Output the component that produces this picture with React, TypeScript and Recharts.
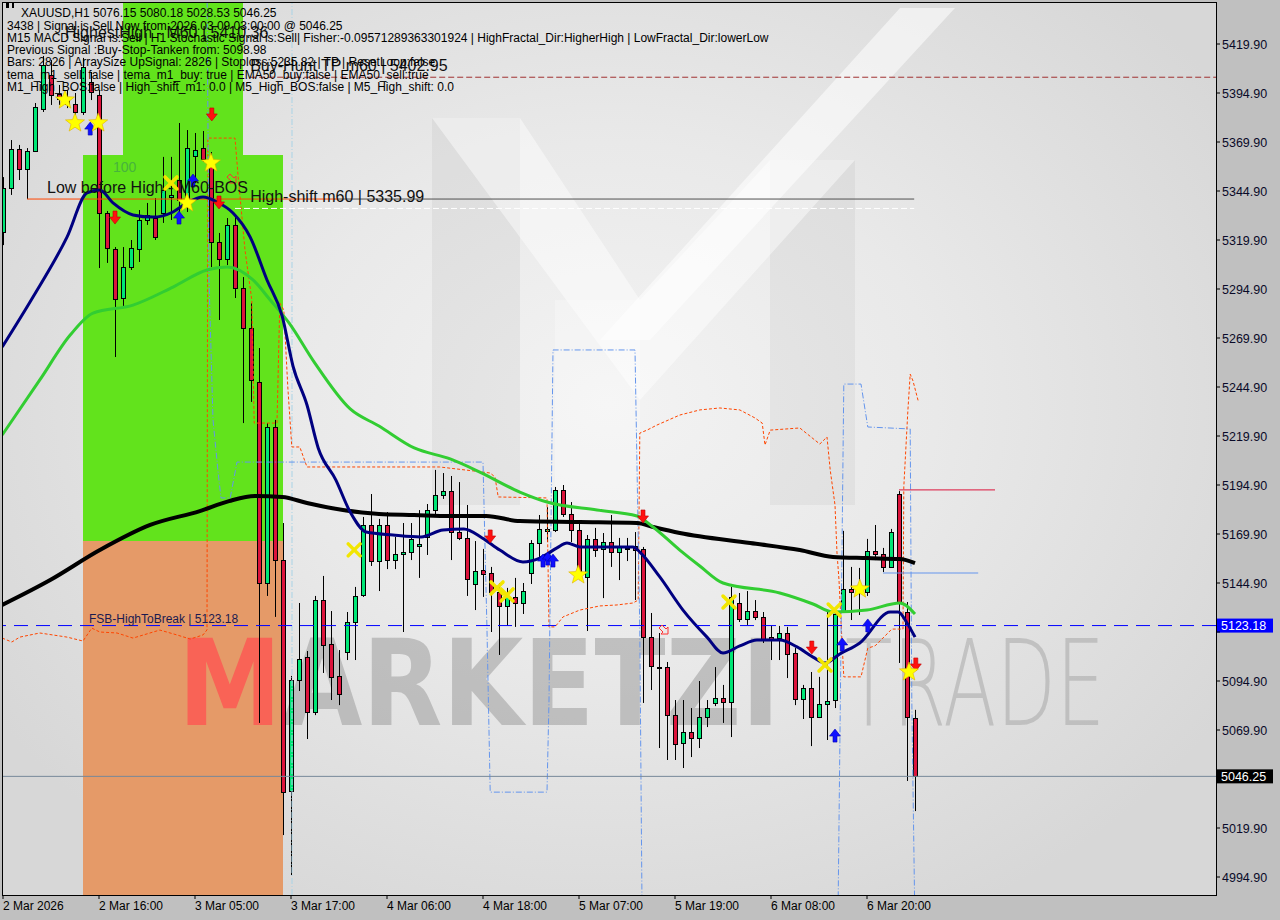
import React from "react";
import {
  ComposedChart,
  Bar,
  Line,
  XAxis,
  YAxis,
  ReferenceArea,
  ReferenceLine,
  ReferenceDot,
} from "recharts";

// plot window (bar index / price) - 8px per bar, 1.96px per point
const X_MIN = -0.125;
const X_MAX = 151.625;
const Y_MIN = 4985.72;
const Y_MAX = 5441.33;

const BULL = "#00E676";
const BEAR = "#DC143C";
const FONT = "'Liberation Sans', Arial, sans-serif";

// XAUUSD H1 candles, index 0 = 2 Mar 2026
const opens = [
  5324.0, 5346.4, 5366.3, 5356.1, 5365.3, 5386.7, 5404.1, 5394.4, 5391.8, 5389.3,
  5385.2, 5400.5, 5393.9, 5333.7, 5315.3, 5290.3, 5306.1, 5315.3, 5330.1, 5331.1,
  5333.7, 5341.8, 5350.5, 5341.3, 5362.8, 5366.8, 5360.7, 5318.9, 5310.2, 5327.6,
  5295.4, 5275.0, 5247.5, 5144.9, 5224.5, 5156.6, 5038.8, 5095.4, 5107.1, 5079.1,
  5136.2, 5113.8, 5097.5, 5109.7, 5125.0, 5138.8, 5174.5, 5156.1, 5174.5, 5156.6,
  5159.7, 5160.7, 5163.8, 5168.4, 5182.1, 5189.8, 5191.8, 5170.9, 5167.9, 5144.4,
  5151.5, 5150.0, 5140.3, 5133.2, 5137.8, 5134.7, 5150.0, 5165.3, 5171.5, 5172.0,
  5192.4, 5180.1, 5172.0, 5148.0, 5167.4, 5162.3, 5165.8, 5160.7, 5162.9, 5163.8,
  5162.3, 5117.3, 5102.0, 5102.0, 5077.5, 5063.3, 5068.9, 5065.8, 5076.5, 5083.7,
  5086.2, 5084.2, 5134.7, 5126.5, 5130.6, 5127.5, 5117.3, 5116.8, 5119.4, 5109.2,
  5085.7, 5091.3, 5076.5, 5083.2, 5085.2, 5130.1, 5141.8, 5140.3, 5140.3, 5161.2,
  5159.7, 5153.1, 5190.3, 5130.1, 5076.15,
];
const highs = [
  5352.0, 5370.9, 5368.4, 5366.8, 5389.8, 5413.8, 5411.7, 5399.0, 5396.4, 5394.9,
  5412.8, 5405.6, 5396.4, 5334.7, 5316.3, 5316.3, 5319.9, 5335.2, 5338.8, 5341.3,
  5362.3, 5362.3, 5379.6, 5376.0, 5374.5, 5375.5, 5364.8, 5323.5, 5331.1, 5331.6,
  5301.0, 5287.8, 5264.8, 5226.5, 5228.1, 5175.5, 5097.5, 5134.7, 5110.2, 5138.3,
  5148.5, 5130.6, 5110.7, 5130.1, 5142.9, 5178.6, 5190.3, 5177.6, 5181.1, 5168.4,
  5175.5, 5175.5, 5182.1, 5185.2, 5202.6, 5201.0, 5199.5, 5196.4, 5184.7, 5166.3,
  5162.3, 5153.1, 5144.9, 5142.4, 5147.5, 5144.9, 5166.8, 5179.6, 5183.6, 5193.9,
  5194.9, 5186.2, 5176.0, 5169.4, 5173.0, 5170.4, 5179.6, 5167.9, 5167.9, 5170.9,
  5163.3, 5129.6, 5119.4, 5104.6, 5085.2, 5085.2, 5081.1, 5094.9, 5085.2, 5102.0,
  5092.9, 5142.9, 5139.8, 5140.8, 5136.2, 5130.1, 5123.0, 5123.0, 5122.5, 5111.7,
  5092.9, 5099.5, 5097.0, 5131.1, 5132.6, 5171.5, 5153.1, 5152.6, 5167.4, 5174.5,
  5162.8, 5172.5, 5191.8, 5135.2, 5080.18,
];
const lows = [
  5317.3, 5342.9, 5350.5, 5340.8, 5364.8, 5385.2, 5388.8, 5388.8, 5387.2, 5383.7,
  5383.7, 5391.3, 5305.6, 5308.2, 5260.2, 5285.7, 5304.6, 5308.7, 5327.6, 5319.9,
  5328.6, 5330.1, 5334.2, 5334.2, 5349.0, 5359.7, 5306.1, 5279.1, 5307.1, 5290.3,
  5226.5, 5237.3, 5073.5, 5138.3, 5127.6, 5016.3, 4995.9, 5089.8, 5065.3, 5077.5,
  5099.0, 5085.2, 5082.6, 5105.6, 5105.6, 5137.8, 5153.6, 5140.8, 5152.0, 5152.0,
  5119.9, 5156.6, 5147.5, 5159.2, 5179.1, 5187.8, 5156.6, 5166.8, 5138.3, 5131.1,
  5137.8, 5119.9, 5108.2, 5123.0, 5122.5, 5129.1, 5144.4, 5158.2, 5165.8, 5170.9,
  5178.6, 5165.8, 5146.4, 5120.4, 5158.2, 5137.2, 5153.1, 5146.4, 5156.1, 5136.2,
  5083.7, 5090.3, 5060.7, 5054.6, 5054.6, 5050.5, 5056.1, 5060.7, 5071.4, 5082.1,
  5073.5, 5066.3, 5125.0, 5123.5, 5126.0, 5114.3, 5105.6, 5105.6, 5096.4, 5082.6,
  5075.5, 5061.7, 5076.0, 5064.8, 5081.1, 5130.1, 5126.0, 5128.6, 5138.3, 5156.6,
  5150.5, 5153.1, 5104.1, 5043.9, 5028.53,
];
const closes = [
  5346.4, 5366.3, 5356.1, 5365.3, 5387.8, 5409.2, 5393.9, 5391.8, 5389.3, 5385.2,
  5408.2, 5395.4, 5333.7, 5315.8, 5289.8, 5306.1, 5315.8, 5330.1, 5332.7, 5321.4,
  5345.4, 5342.8, 5340.3, 5366.8, 5365.8, 5361.2, 5318.9, 5310.2, 5327.6, 5295.4,
  5275.0, 5248.5, 5144.9, 5224.5, 5156.6, 5038.3, 5095.4, 5106.1, 5079.1, 5136.2,
  5113.3, 5097.0, 5088.3, 5125.0, 5138.3, 5174.5, 5156.1, 5174.5, 5156.6, 5159.7,
  5160.7, 5167.4, 5164.8, 5182.1, 5189.8, 5191.8, 5170.9, 5167.9, 5147.0, 5151.0,
  5149.5, 5140.3, 5133.2, 5138.3, 5134.7, 5140.8, 5165.3, 5172.5, 5172.5, 5192.4,
  5180.1, 5172.0, 5149.0, 5167.4, 5161.7, 5165.8, 5160.7, 5163.3, 5162.8, 5161.7,
  5117.3, 5102.5, 5101.9, 5077.5, 5062.8, 5068.9, 5065.8, 5076.5, 5081.1, 5086.2,
  5084.2, 5137.8, 5126.5, 5130.6, 5127.5, 5116.3, 5116.3, 5119.4, 5108.7, 5085.7,
  5091.3, 5076.5, 5083.2, 5084.7, 5129.1, 5141.8, 5140.3, 5141.8, 5161.2, 5159.7,
  5153.1, 5171.0, 5134.7, 5076.5, 5046.25,
];

const dateTickIdx = [0, 12, 24, 36, 48, 60, 72, 84, 96, 108];
const dateTickLabels = [
  "2 Mar 2026", "2 Mar 16:00", "3 Mar 05:00", "3 Mar 17:00", "4 Mar 06:00",
  "4 Mar 18:00", "5 Mar 07:00", "5 Mar 19:00", "6 Mar 08:00", "6 Mar 20:00",
];
const priceTicks = [
  4994.9, 5019.9, 5044.9, 5069.9, 5094.9, 5119.9, 5144.9, 5169.9, 5194.9,
  5219.9, 5244.9, 5269.9, 5294.9, 5319.9, 5344.9, 5369.9, 5394.9, 5419.9,
];
// prices shown as tags on the price scale
const tagPrices = [5123.18, 5046.25];

// indicator vertices [bar index, price]
const emaFast: [number, number][] = [
  [-0.1, 5265.3], [3.75, 5290.8], [8, 5321.4], [10.5, 5343.9], [12.1, 5345.4],
  [13.75, 5338.8], [16.25, 5332.7], [18.75, 5331.6], [21.25, 5334.2], [23, 5338.8],
  [25, 5341.8], [26.75, 5339.3], [28.75, 5333.7], [30.9, 5321.4], [33, 5299.5],
  [34.9, 5281.1], [36.25, 5255.6], [38, 5235.7], [39.4, 5213.8], [41.6, 5197.5],
  [43.4, 5181.1], [45.4, 5170.9], [48.75, 5169.4], [52.25, 5168.4], [55, 5171.9],
  [57.6, 5172.5], [59.9, 5167.9], [62.1, 5161.7], [65, 5155.6], [67.1, 5157.6],
  [69.25, 5162.8], [70.5, 5165.3], [72.1, 5163.3], [74.6, 5163.3], [78.75, 5163.3],
  [79.6, 5160.7], [82.1, 5148.0], [85, 5131.1], [88, 5117.3], [90, 5109.2],
  [92.1, 5112.8], [94.25, 5115.8], [97.1, 5115.8], [99.25, 5112.3], [101.25, 5107.1],
  [102.75, 5104.1], [104.6, 5108.7], [107.1, 5114.3], [110.9, 5130.1], [111.9, 5130.1],
  [113, 5124.5], [114, 5117.3],
];
const ema50: [number, number][] = [
  [-0.1, 5220.4], [4.6, 5248.5], [8.4, 5271.4], [11.25, 5282.6], [16.25, 5286.7],
  [21.25, 5295.9], [25.5, 5304.6], [28, 5306.1], [31.25, 5299.5], [33.4, 5289.3],
  [35.75, 5277.6], [38.9, 5257.6], [43.4, 5233.7], [47, 5225.0], [51.4, 5213.8],
  [55.9, 5208.2], [59.6, 5201.5], [64.6, 5191.3], [68, 5186.2], [74.25, 5182.1],
  [79.25, 5179.1], [81.25, 5173.5], [84.6, 5161.7], [87.1, 5153.6], [90, 5144.9],
  [97.1, 5139.8], [101.25, 5134.2], [103.75, 5130.1], [108, 5131.1], [112.1, 5134.7],
  [114, 5129.1],
];
const ema200: [number, number][] = [
  [-0.1, 5133.7], [5.9, 5146.4], [12.1, 5161.7], [18.4, 5174.5], [24.6, 5181.6],
  [28.25, 5186.7], [31.5, 5189.3], [34.9, 5188.8], [38, 5185.7], [42.5, 5182.1],
  [47, 5180.1], [51.4, 5179.6], [55.9, 5179.1], [60.4, 5179.1], [64.6, 5176.5],
  [72.1, 5176.0], [79.25, 5175.5], [81.25, 5173.5], [84.6, 5170.4], [93.4, 5165.3],
  [99.6, 5161.7], [103.75, 5158.2], [108, 5157.6], [112.1, 5157.1], [114, 5155.1],
];
const stopLine: [number, number][] = [
  [-0.1, 5116.8], [1.1, 5114.8], [2.1, 5117.3], [4.6, 5119.4], [8, 5117.3],
  [10, 5115.3], [11.1, 5121.9], [12.1, 5119.9], [14.25, 5119.4], [16.25, 5116.8],
  [19.6, 5120.9], [21.75, 5118.4], [23.4, 5116.3], [25, 5118.4], [25.5, 5121.0],
  [25.6, 5371.9], [29, 5371.9], [29.4, 5352.0], [30.25, 5314.8], [31.1, 5289.3],
  [31.4, 5226.5], [34.25, 5226.5], [34.6, 5287.8], [35.1, 5284.2], [35.6, 5244.9],
  [36.1, 5214.3], [37.1, 5214.3], [38, 5204.1], [54.6, 5204.1], [60, 5201.5],
  [60.9, 5201.0], [61.5, 5199.0], [61.9, 5188.8], [68, 5188.3], [68.25, 5122.5],
  [69, 5122.5], [70, 5127.6], [72.1, 5131.1], [74.6, 5133.2], [76.75, 5133.7],
  [78.75, 5134.7], [79.4, 5136.2], [79.6, 5221.4], [80.5, 5222.9], [81.75, 5225.5],
  [84.6, 5230.6], [87.1, 5233.2], [89.6, 5234.2], [92.1, 5233.2], [94, 5229.1],
  [94.9, 5226.5], [95.25, 5215.3], [95.9, 5222.9], [99.6, 5224.0], [102.1, 5215.8],
  [103, 5219.4], [103.4, 5202.6], [104, 5184.7], [104.25, 5160.2], [104.5, 5146.4],
  [104.75, 5125.0], [105.1, 5097.0], [107.25, 5097.0], [108.1, 5111.7], [109, 5112.8],
  [110.5, 5118.9], [111.1, 5121.4], [112.5, 5121.4], [112.6, 5193.9], [113.1, 5232.2],
  [113.4, 5251.5], [113.75, 5248.0], [114.4, 5237.8],
];
const channelLine: [number, number][] = [
  [25.5, 5452.6], [25.75, 5299.5], [26.25, 5228.1], [26.9, 5201.0], [27.25, 5188.3],
  [28.4, 5188.3], [29.25, 5206.6], [60, 5206.6], [60.5, 5120.9], [60.9, 5038.2],
  [68, 5038.2], [68.25, 5085.2], [68.75, 5263.8], [79, 5263.8], [79.6, 5120.9],
  [79.9, 4967.9], [104.4, 4967.9], [104.4, 4984.7], [105.1, 5246.4], [107.25, 5246.4],
  [108.1, 5224.5], [113.4, 5223.5], [113.6, 5085.2], [114, 4967.9],
];

// signal markers [bar index, price]
const sellArrows: [number, number][] = [
  [26.1, 5383.7], [14, 5331.1], [27, 5338.8], [60.9, 5168.4], [80, 5178.6],
  [101.1, 5111.7], [114.1, 5103.1],
];
const buyArrows: [number, number][] = [
  [10.9, 5377.0], [23.75, 5350.5], [22, 5331.6], [67.5, 5156.6], [68.1, 5157.6],
  [68.75, 5156.6], [104, 5067.3], [104.9, 5113.8], [108.1, 5123.5],
];
const stars: [number, number][] = [
  [7.75, 5391.3], [9, 5379.6], [11.9, 5379.6], [26, 5359.2], [23, 5338.8],
  [71.9, 5149.0], [107.1, 5141.8], [113.25, 5099.5],
];
const crosses: [number, number][] = [
  [21, 5349.0], [43.9, 5161.8], [61.75, 5142.4], [63, 5138.8], [90.75, 5135.2],
  [102.75, 5103.1], [103.9, 5131.1],
];
const hollowArrows: [number, number][] = [[28.75, 5350.5], [82.75, 5120.4]];

const candles = opens.map((o, i) => ({
  i,
  open: o,
  high: highs[i],
  low: lows[i],
  close: closes[i],
  range: [lows[i], highs[i]],
}));
const pts = (arr: [number, number][]) => arr.map(([i, p]) => ({ i, p }));

const Candle = (props: any) => {
  const { x, y, width, height, payload } = props;
  if (!payload || height == null || isNaN(y)) return null;
  const { open, close, high, low } = payload;
  const cx = Math.round(x + width / 2) + 0.5;
  const span = high - low || 1;
  const yOf = (v: number) => y + ((high - v) / span) * height;
  const top = Math.round(yOf(Math.max(open, close)));
  const bot = Math.round(yOf(Math.min(open, close)));
  return (
    <g>
      <line x1={cx} x2={cx} y1={y} y2={y + height} stroke="#000" strokeWidth={1} />
      <rect
        x={cx - 2}
        y={top + 0.5}
        width={4}
        height={Math.max(1, bot - top)}
        fill={close > open ? BULL : BEAR}
        stroke="#000"
        strokeWidth={1}
      />
    </g>
  );
};

const DownArrow = ({ cx, cy }: any) => (
  <path
    d={`M${cx - 2},${cy - 7} h4 v6 h3.5 l-5.5,7 l-5.5,-7 h3.5 z`}
    fill="#ff1010"
    stroke="#c00000"
    strokeWidth={0.6}
  />
);
const UpArrow = ({ cx, cy }: any) => (
  <path
    d={`M${cx - 2},${cy + 7} h4 v-6 h3.5 l-5.5,-7 l-5.5,7 h3.5 z`}
    fill="#1010ff"
    stroke="#0000b0"
    strokeWidth={0.6}
  />
);
const HollowArrow = ({ cx, cy }: any) => (
  <path
    d={`M${cx - 6},${cy - 3} l3,-3 l4,4 l2,-2 v7 h-7 l2,-2 z`}
    fill="none"
    stroke="#ff3030"
    strokeWidth={1}
  />
);
const Star = ({ cx, cy }: any) => {
  const p: string[] = [];
  for (let k = 0; k < 10; k++) {
    const r = k % 2 === 0 ? 10 : 4.2;
    const a = -Math.PI / 2 + (k * Math.PI) / 5;
    p.push(`${cx + r * Math.cos(a)},${cy + r * Math.sin(a)}`);
  }
  return <polygon points={p.join(" ")} fill="#ffff00" stroke="#e0b000" strokeWidth={0.6} />;
};
const Cross = ({ cx, cy }: any) => (
  <g stroke="#f2e600" strokeWidth={3.5} strokeLinecap="round">
    <line x1={cx - 6} y1={cy - 6} x2={cx + 6} y2={cy + 6} />
    <line x1={cx - 6} y1={cy + 6} x2={cx + 6} y2={cy - 6} />
  </g>
);

const label = (text: string, size: number, color = "#111") => (p: any) => (
  <text x={p.cx} y={p.cy} fontFamily={FONT} fontSize={size} fill={color}>
    {text}
  </text>
);

const PriceTag = ({ viewBox, text, bg }: any) => {
  if (!viewBox) return null;
  const x = viewBox.x + viewBox.width + 1;
  const y = viewBox.y;
  return (
    <g>
      <rect x={x} y={y - 7} width={56} height={14} fill={bg} />
      <text x={x + 4} y={y + 4.5} fontFamily={FONT} fontSize={12.5} fill="#fff">
        {text}
      </text>
    </g>
  );
};

const DateTick = ({ x, y, payload }: any) => {
  const k = dateTickIdx.indexOf(payload.value);
  return (
    <text x={x} y={y + 10} fontFamily={FONT} fontSize={12} fill="#000" textAnchor="start">
      {k >= 0 ? dateTickLabels[k] : ""}
    </text>
  );
};
// labels hidden under a price tag are not drawn (as in the terminal)
const PriceTick = ({ x, y, payload }: any) => {
  if (tagPrices.some((t) => Math.abs(t - payload.value) < 4)) return null;
  return (
    <text x={x} y={y + 4.5} fontFamily={FONT} fontSize={12.5} fill="#0a0a28" textAnchor="start">
      {payload.value.toFixed(2)}
    </text>
  );
};

const WordMark = ({ x, y, width, height, word, first, firstColor }: any) => (
  <text
    x={x}
    y={y + height}
    fontFamily="'DejaVu Sans', sans-serif"
    fontWeight={first ? 700 : 200}
    fontSize={120}
    textLength={width}
    lengthAdjust="spacingAndGlyphs"
    fill="#9c9c9c"
    fillOpacity={first ? 0.55 : 0.45}
  >
    {first ? <tspan fill={firstColor} fillOpacity={0.75}>{first}</tspan> : null}
    {word}
  </text>
);

const header = [
  "3438 | Signal is Sell Now from:2026.03.09 03:00:00 @ 5046.25",
  "M15 MACD Signal is:Sell | H1 Stochastic Signal is:Sell| Fisher:-0.09571289363301924 | HighFractal_Dir:HigherHigh | LowFractal_Dir:lowerLow",
  "Previous Signal :Buy-Stop-Tanken from: 5098.98",
  "Bars: 2826 | ArraySize UpSignal: 2826 | Stoploss:5235.82 | TP | ResetLoop:false",
  "tema_m1_sell: false | tema_m1_buy: true | EMA50_buy:false | EMA50_sell:true",
  "M1_High_BOS:false | High_shift_m1: 0.0 | M5_High_BOS:false | M5_High_shift: 0.0",
];

export default function App() {
  return (
    <div style={{ position: "absolute", left: 0, top: 0, width: 1280, height: 920, background: "#c0c0c0", overflow: "hidden" }}>
      <div
        style={{
          position: "absolute",
          left: 2,
          top: 2,
          width: 1214,
          height: 893,
          background: "radial-gradient(ellipse 60% 65% at 50% 45%, #f3f3f3 0%, #e9e9e9 45%, #d7d7d7 100%)",
        }}
      />
      {/* faint logo in the background */}
      <svg width={1280} height={920} style={{ position: "absolute", left: 0, top: 0 }}>
        <polygon points="432,118 520,118 520,505 432,505" fill="#000" fillOpacity={0.045} />
        <polygon points="770,160 855,160 855,505 770,505" fill="#000" fillOpacity={0.04} />
        <polygon points="432,118 520,118 640,300 770,160 855,160 640,400" fill="#fff" fillOpacity={0.45} />
        <polygon points="600,340 650,340 955,8 900,8" fill="#fff" fillOpacity={0.55} />
        <polygon points="555,300 640,300 640,500 555,500" fill="#fff" fillOpacity={0.25} />
      </svg>
      <div style={{ position: "absolute", left: 0, top: 0 }}>
        <ComposedChart
          width={1280}
          height={920}
          data={candles}
          margin={{ top: 2, right: 0, bottom: 0, left: 2 }}
        >
          <XAxis
            dataKey="i"
            type="number"
            domain={[X_MIN, X_MAX]}
            allowDataOverflow
            ticks={dateTickIdx}
            interval={0}
            height={25}
            tickSize={4}
            tickMargin={1}
            axisLine={false}
            tickLine={{ stroke: "#000" }}
            tick={<DateTick />}
          />
          <YAxis
            orientation="right"
            type="number"
            domain={[Y_MIN, Y_MAX]}
            allowDataOverflow
            ticks={priceTicks}
            interval={0}
            width={64}
            tickSize={4}
            tickMargin={2}
            axisLine={false}
            tickLine={{ stroke: "#000" }}
            tick={<PriceTick />}
          />

          {/* zones */}
          <ReferenceArea x1={15} x2={30} y1={5363.27} y2={Y_MAX} fill="#62E31C" fillOpacity={1} stroke="none" />
          <ReferenceArea x1={10} x2={35} y1={5166.33} y2={5363.27} fill="#62E31C" fillOpacity={1} stroke="none" />
          <ReferenceArea x1={10} x2={35} y1={Y_MIN} y2={5166.33} fill="#E59A68" fillOpacity={1} stroke="none" />

          {/* watermark */}
          <ReferenceArea
            x1={21.875}
            x2={97.125}
            y1={5072.45}
            y2={5115.8}
            fill="none"
            shape={(p: any) => <WordMark {...p} first="M" firstColor="#ff5050" word="ARKETZI" />}
          />
          <ReferenceArea
            x1={105.25}
            x2={137.75}
            y1={5072.45}
            y2={5115.8}
            fill="none"
            shape={(p: any) => <WordMark {...p} word="TRADE" />}
          />

          <ReferenceLine x={36.125} stroke="#a9d3e6" strokeDasharray="6 2 1 2" />

          <Line data={pts(stopLine)} dataKey="p" type="linear" stroke="#FF4500" strokeWidth={1} strokeDasharray="3 2" dot={false} isAnimationActive={false} />
          <Line data={pts(channelLine)} dataKey="p" type="linear" stroke="#6495ED" strokeWidth={1} strokeDasharray="6 2 1 2" dot={false} isAnimationActive={false} />

          {/* levels */}
          <ReferenceLine segment={[{ x: 3, y: 5340.8 }, { x: 42, y: 5340.8 }]} stroke="#FF4500" />
          <ReferenceLine segment={[{ x: 42, y: 5340.8 }, { x: 113.9, y: 5340.8 }]} stroke="#505050" />
          <ReferenceLine segment={[{ x: 29, y: 5336.0 }, { x: 113.9, y: 5336.0 }]} stroke="#ffffff" strokeDasharray="6 3" />
          <ReferenceLine segment={[{ x: 30.9, y: 5402.95 }, { x: X_MAX, y: 5402.95 }]} stroke="#a03030" strokeDasharray="6 3" />
          <ReferenceLine segment={[{ x: 112, y: 5192.4 }, { x: 124, y: 5192.4 }]} stroke="#DC143C" />
          <ReferenceLine segment={[{ x: 110, y: 5150.0 }, { x: 121.9, y: 5150.0 }]} stroke="#6495ED" />

          <Bar dataKey="range" barSize={6} shape={(p: any) => <Candle {...p} />} isAnimationActive={false} />

          <Line data={pts(ema200)} dataKey="p" type="monotone" stroke="#000000" strokeWidth={4} dot={false} isAnimationActive={false} />
          <Line data={pts(ema50)} dataKey="p" type="monotone" stroke="#32CD32" strokeWidth={3} dot={false} isAnimationActive={false} />
          <Line data={pts(emaFast)} dataKey="p" type="monotone" stroke="#000080" strokeWidth={3} dot={false} isAnimationActive={false} />

          <ReferenceLine y={5123.18} stroke="#0000FF" strokeDasharray="14 8" label={<PriceTag text="5123.18" bg="#0000ff" />} />
          <ReferenceLine y={5046.25} stroke="#778899" label={<PriceTag text="5046.25" bg="#000000" />} />

          {sellArrows.map(([i, p], k) => (
            <ReferenceDot key={"s" + k} x={i} y={p} r={1} shape={(q: any) => <DownArrow {...q} />} />
          ))}
          {buyArrows.map(([i, p], k) => (
            <ReferenceDot key={"b" + k} x={i} y={p} r={1} shape={(q: any) => <UpArrow {...q} />} />
          ))}
          {stars.map(([i, p], k) => (
            <ReferenceDot key={"st" + k} x={i} y={p} r={1} shape={(q: any) => <Star {...q} />} />
          ))}
          {crosses.map(([i, p], k) => (
            <ReferenceDot key={"x" + k} x={i} y={p} r={1} shape={(q: any) => <Cross {...q} />} />
          ))}
          {hollowArrows.map(([i, p], k) => (
            <ReferenceDot key={"h" + k} x={i} y={p} r={1} shape={(q: any) => <HollowArrow {...q} />} />
          ))}

          <ReferenceDot x={7.75} y={5422.96} r={1} shape={label("HighestHigh - M60 | 5410.36", 16)} />
          <ReferenceDot x={30.9} y={5406.1} r={1} shape={label("Buy-Hunt TP m60 | 5402.95", 16)} />
          <ReferenceDot x={5.5} y={5343.9} r={1} shape={label("Low before High - M60-BOS", 16)} />
          <ReferenceDot x={30.9} y={5339.3} r={1} shape={label("High-shift m60 | 5335.99", 16)} />
          <ReferenceDot x={13.75} y={5354.6} r={1} shape={label("100", 14, "#47b43c")} />
          <ReferenceDot x={10.75} y={5124.5} r={1} shape={label("FSB-HighToBreak | 5123.18", 12, "#1a1a50")} />
        </ComposedChart>
      </div>
      <svg width={1280} height={920} style={{ position: "absolute", left: 0, top: 0, pointerEvents: "none" }}>
        <rect x={2.5} y={2.5} width={1214} height={893} fill="none" stroke="#000" />
        <rect x={6} y={2} width={3} height={6} fill="#000" />
        <rect x={12} y={3} width={2} height={5} fill="#000" />
        <text x={21} y={17} fontFamily={FONT} fontSize={12} fill="#000">
          XAUUSD,H1  5076.15 5080.18 5028.53 5046.25
        </text>
        {header.map((t, k) => (
          <text key={k} x={7} y={29.5 + k * 12.3} fontFamily={FONT} fontSize={12} fill="#000">
            {t}
          </text>
        ))}
      </svg>
    </div>
  );
}
